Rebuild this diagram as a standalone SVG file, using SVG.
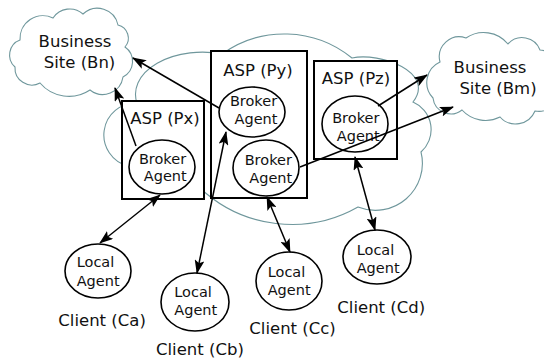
<svg xmlns="http://www.w3.org/2000/svg" width="544" height="359" viewBox="0 0 544 359">
<defs>
<style>
.cloud{fill:#fff;stroke:#6f979c;stroke-width:1.1}
.box{fill:#fff;stroke:#000;stroke-width:2}
.ell{fill:#fff;stroke:#000;stroke-width:1.6}
.con{fill:none;stroke:#000;stroke-width:1.5}
text{font-family:"DejaVu Sans","Liberation Sans",sans-serif;fill:#111}
.big{font-size:16.5px}
.sm{font-size:14.5px}
.mid{text-anchor:middle}
</style>
<marker id="ah" viewBox="0 0 14 10" refX="13" refY="5" markerWidth="14" markerHeight="10" markerUnits="userSpaceOnUse" orient="auto-start-reverse">
<path d="M0,0 L14,5 L0,10 L3,5 z" fill="#000"/>
</marker>
</defs>

<g id="cloud-main">
<path class="cloud" d="M128,166 A32,32 0 0 1 137,103 A67,42 0 0 1 222,54 A107,107 0 0 1 352,58 C380,52 436,72 413,102 A30,30 0 0 1 421,152 A47,47 0 0 1 358,207 A134,134 0 0 1 200,188 Z"/>
</g>
<g id="cloud-bn">
<path class="cloud" d="M20,40 A23,23 0 0 1 53,18 A20,20 0 0 1 83,14 A21,21 0 0 1 118,25 A13.5,13.5 0 0 1 125,47 A17.5,17.5 0 0 1 123,77 A20.5,20.5 0 0 1 90,90 A38,38 0 0 1 40,83 A17,17 0 0 1 15,67 A16,16 0 0 1 20,40 Z"/>
<text class="big mid" x="75" y="47">Business</text>
<text class="big mid" x="79.5" y="68">Site (Bn)</text>
</g>
<g id="cloud-bm">
<path class="cloud" d="M440,62 A20,20 0 0 1 466,38 A31.5,31.5 0 0 1 508,44 A19,19 0 0 1 540,50 A22,22 0 0 1 556,85 A19,19 0 0 1 535,111 A21,21 0 0 1 500,117 A32,32 0 0 1 462,110 A18,18 0 0 1 433,98 A22.5,22.5 0 0 1 440,62 Z"/>
<text class="big mid" x="490" y="72.5">Business</text>
<text class="big mid" x="498" y="93.5">Site (Bm)</text>
</g>

<g id="asp-px">
<rect class="box" x="122" y="101" width="82" height="98"/>
<text class="big mid" x="165" y="124">ASP (Px)</text>
</g>
<g id="asp-py">
<rect class="box" x="211" y="51" width="96" height="147"/>
<text class="big mid" x="258" y="76">ASP (Py)</text>
</g>
<g id="asp-pz">
<rect class="box" x="314" y="61" width="83" height="98"/>
<text class="big mid" x="356" y="84">ASP (Pz)</text>
</g>

<g id="broker-px">
<ellipse class="ell" cx="162" cy="167" rx="33" ry="27"/>
<text class="sm mid" x="162.5" y="163.5">Broker</text>
<text class="sm mid" x="165.3" y="181">Agent</text>
</g>
<g id="broker-py1">
<ellipse class="ell" cx="252" cy="112" rx="33" ry="25"/>
<text class="sm mid" x="253.5" y="105.8">Broker</text>
<text class="sm mid" x="256" y="124">Agent</text>
</g>
<g id="broker-py2">
<ellipse class="ell" cx="266" cy="168" rx="33" ry="28"/>
<text class="sm mid" x="268.3" y="164.8">Broker</text>
<text class="sm mid" x="270.8" y="183.3">Agent</text>
</g>
<g id="broker-pz">
<ellipse class="ell" cx="355" cy="124" rx="33" ry="28"/>
<text class="sm mid" x="355.8" y="123">Broker</text>
<text class="sm mid" x="358.3" y="141.3">Agent</text>
</g>

<g id="local-ca">
<ellipse class="ell" cx="98" cy="271" rx="33" ry="27"/>
<text class="sm" x="76.7" y="267.3">Local</text>
<text class="sm" x="76.7" y="285.8">Agent</text>
<text class="big" x="58.3" y="326">Client (Ca)</text>
</g>
<g id="local-cb">
<ellipse class="ell" cx="195" cy="302" rx="34" ry="29"/>
<text class="sm" x="174.3" y="296.6">Local</text>
<text class="sm" x="174.3" y="314.6">Agent</text>
<text class="big" x="156" y="355">Client (Cb)</text>
</g>
<g id="local-cc">
<ellipse class="ell" cx="289" cy="281" rx="33" ry="29"/>
<text class="sm" x="267.7" y="276.6">Local</text>
<text class="sm" x="267.7" y="294.6">Agent</text>
<text class="big" x="249.3" y="333.5">Client (Cc)</text>
</g>
<g id="local-cd">
<ellipse class="ell" cx="377" cy="257" rx="34" ry="27"/>
<text class="sm" x="356.7" y="255">Local</text>
<text class="sm" x="356.7" y="273">Agent</text>
<text class="big" x="337.3" y="312.5">Client (Cd)</text>
</g>

<g id="connectors">
<line class="con" x1="136" y1="146" x2="115" y2="88" marker-end="url(#ah)"/>
<line class="con" x1="219" y1="108" x2="133" y2="58" marker-end="url(#ah)"/>
<line class="con" x1="197" y1="273" x2="226" y2="132" marker-start="url(#ah)" marker-end="url(#ah)"/>
<line class="con" x1="100" y1="243" x2="160" y2="195" marker-start="url(#ah)" marker-end="url(#ah)"/>
<line class="con" x1="290" y1="252" x2="267" y2="197" marker-start="url(#ah)" marker-end="url(#ah)"/>
<line class="con" x1="375" y1="230" x2="355" y2="157" marker-start="url(#ah)" marker-end="url(#ah)"/>
<line class="con" x1="378" y1="106" x2="427" y2="75" marker-end="url(#ah)"/>
<line class="con" x1="300" y1="167" x2="453" y2="107" marker-end="url(#ah)"/>
</g>
</svg>
